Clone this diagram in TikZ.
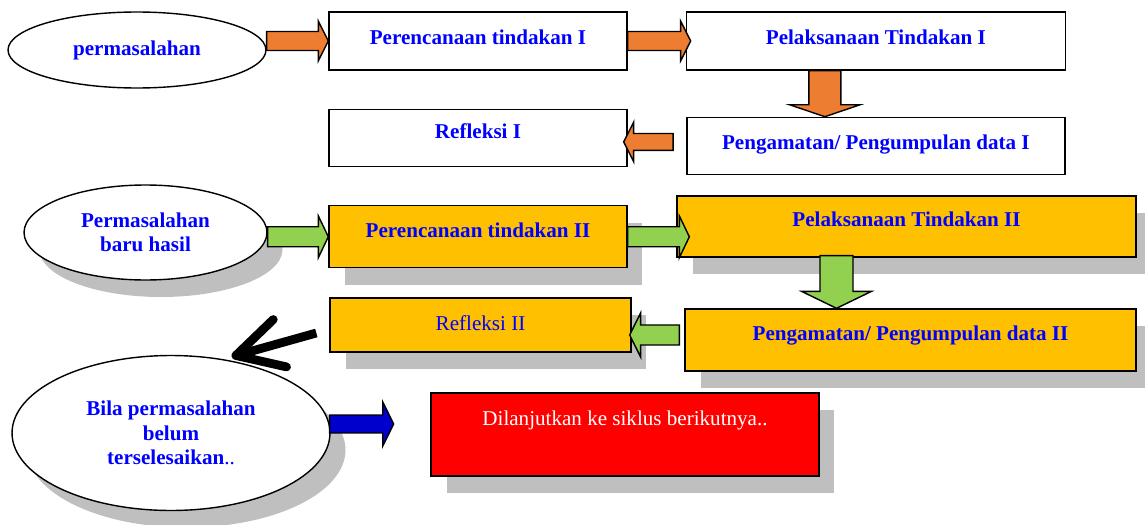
\documentclass[tikz,border=0pt]{standalone}
\usepackage{fontspec}
\setmainfont{Liberation Serif}
\usepackage{tikz}
\usetikzlibrary{
    arrows.meta,
    shapes.geometric,
    positioning,
    calc,
    shadows
}
\usepackage{xcolor}
\definecolor{arroworange}{HTML}{ED7D31}
\definecolor{arrowgreen}{HTML}{92D050}
\definecolor{arrowblue}{HTML}{0000CC}
\definecolor{boxorange}{HTML}{FFC000}
\definecolor{textblue}{HTML}{0000FF}
\definecolor{shadowgray}{HTML}{BFBFBF}
\newcommand{\labelsize}{\fontsize{12pt}{14pt}\selectfont}
\tikzstyle{dropshade} = [
    drop shadow={shadow xshift=0.31cm, shadow yshift=-0.34cm, fill=shadowgray, opacity=1}
]
\tikzstyle{stage} = [
    rectangle,
    draw=black,
    line width=0.8pt,
    fill=white,
    text=textblue,
    inner sep=0pt,
    text height=9pt,
    text depth=6pt,
    font=\labelsize\bfseries
]
\tikzstyle{stageII} = [
    stage,
    fill=boxorange,
    dropshade
]
\tikzstyle{problem} = [
    ellipse,
    draw=black,
    line width=0.8pt,
    fill=white,
    text=textblue,
    inner sep=0pt,
    align=center,
    font=\labelsize\bfseries
]
\tikzstyle{blockarr} = [
    draw=black,
    line width=0.8pt,
    line join=miter
]
\tikzstyle{bigarrow} = [
    line width=5pt,
    -{Straight Barb[length=26pt, width=28pt, round]}
]
% from, to, body half width, head half width, head length, colour
\newcommand{\blockarrow}[6]{%
    \coordinate (ba) at ($(#2)!#5!(#1)$);
    \draw[blockarr, fill=#6] ($(#1)!#3!90:(#2)$) -- ($(ba)!#3!90:(#2)$) -- ($(ba)!#4!90:(#2)$) -- (#2)
        -- ($(ba)!#4!-90:(#2)$) -- ($(ba)!#3!-90:(#2)$) -- ($(#1)!#3!-90:(#2)$) -- cycle;
}

\begin{document}
\begin{tikzpicture}[x=0.02cm, y=-0.02cm]
        \useasboundingbox (0,0) rectangle (1145,524);

        % Cycle I
        \node[problem, minimum width=5.16cm, minimum height=1.52cm] (e1) at (137,50) {permasalahan};
        \node[stage, minimum width=5.96cm, minimum height=1.16cm, text depth=5.5pt] (p1) at (478,41) {Perencanaan tindakan I};
        \node[stage, minimum width=7.58cm, minimum height=1.16cm, text depth=5.5pt, right=1.16cm of p1] (l1) {Pelaksanaan Tindakan I};
        \node[stage, minimum width=5.96cm, minimum height=1.14cm, text depth=8pt, below=0.76cm of p1] (r1) {Refleksi I};
        \node[stage, minimum width=7.56cm, minimum height=1.14cm, text depth=4.5pt, below=0.92cm of l1] (g1) {Pengamatan/ Pengumpulan data I};

        % Cycle II
        \node[problem, dropshade, minimum width=4.86cm, minimum height=1.9cm] (e2) at (145.5,232.5) {Permasalahan\\baru hasil};
        \node[stageII, minimum width=5.96cm, minimum height=1.24cm, text depth=8pt, below=0.76cm of r1] (p2) {Perencanaan tindakan II};
        \node[stageII, minimum width=9.18cm, minimum height=1.22cm, text depth=8.5pt] (l2) at (906.5,226.5) {Pelaksanaan Tindakan II};
        \node[stageII, minimum width=6.02cm, minimum height=1.08cm, text depth=3pt, font=\labelsize] (r2) at (480.5,325) {Refleksi II};
        \node[stageII, minimum width=9.02cm, minimum height=1.24cm, text depth=8.5pt] (g2) at (910.5,340) {Pengamatan/ Pengumpulan data II};

        % Next cycle
        \node[problem, dropshade, minimum width=6.36cm, minimum height=3.1cm] (e3) at (171,433) {Bila permasalahan\\belum\\terselesaikan{\mdseries..}};
        \node[stage, dropshade, fill=red, text=white, line width=1.1pt, font=\labelsize, minimum width=7.76cm, minimum height=1.66cm, text depth=19pt] (next) at (625,434.5) {Dilanjutkan ke siklus berikutnya..};

        % Arrows
        \coordinate (a1s) at (e1.east |- p1.west);
        \blockarrow{a1s}{p1.west}{5.4pt}{11.3pt}{5.7pt}{arroworange}
        \coordinate (a2e) at ($(l1.west)+(5,0)$);
        \blockarrow{p1.east}{a2e}{5.4pt}{11.3pt}{5.7pt}{arroworange}
        \coordinate (a3s) at ($(l1.south)+(-51,0)$);
        \coordinate (a3e) at (a3s |- g1.north);
        \blockarrow{a3s}{a3e}{9.1pt}{20.1pt}{6.8pt}{arroworange}
        \coordinate (a4s) at ($(g1.west)+(-13,-4)$);
        \coordinate (a4e) at ($(a4s -| r1.east)+(-4,0)$);
        \blockarrow{a4s}{a4e}{4.8pt}{11.3pt}{5.7pt}{arroworange}

        \coordinate (a5s) at (e2.east |- p2.west);
        \blockarrow{a5s}{p2.west}{5.7pt}{11.9pt}{5.7pt}{arrowgreen}
        \coordinate (a6e) at ($(p2.east -| l2.west)+(13,0)$);
        \blockarrow{p2.east}{a6e}{5.7pt}{11.9pt}{5.7pt}{arrowgreen}
        \coordinate (a7s) at ($(l2.south)+(-70,-2)$);
        \coordinate (a7e) at (a7s |- g2.north);
        \blockarrow{a7s}{a7e}{9.4pt}{19.8pt}{9.6pt}{arrowgreen}
        \coordinate (a8s) at ($(g2.west)+(-5,-5)$);
        \coordinate (a8e) at ($(a8s -| r2.east)+(-2,0)$);
        \blockarrow{a8s}{a8e}{5.7pt}{12.5pt}{6.2pt}{arrowgreen}

        \coordinate (backs) at ($(r2.west)+(-13,8)$);
        \coordinate (backe) at ($(e3.50)+(0,-4)$);
        \draw[bigarrow] (backs) -- (backe);

        \coordinate (a9s) at ($(e3.east)+(-1,-9)$);
        \coordinate (a9e) at ($(a9s)+(64,0)$);
        \blockarrow{a9s}{a9e}{5.1pt}{12.5pt}{6.2pt}{arrowblue}
    \end{tikzpicture}
\end{document}
